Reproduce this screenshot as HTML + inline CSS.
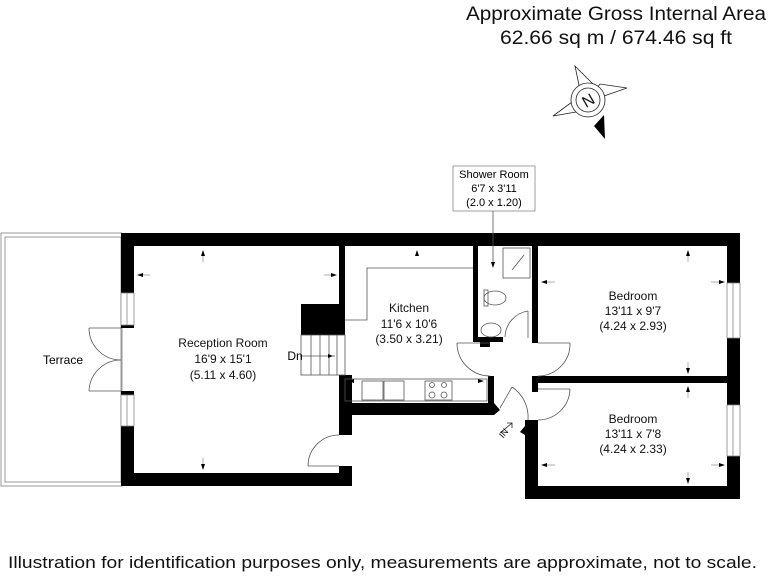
<!DOCTYPE html>
<html><head><style>
html,body{margin:0;padding:0;background:#fff;}
svg{display:block;font-family:"Liberation Sans",Arial,sans-serif;}
</style></head><body>
<svg width="768" height="576" viewBox="0 0 768 576" xmlns="http://www.w3.org/2000/svg">
<text x="466" y="20" font-size="19" textLength="300" lengthAdjust="spacingAndGlyphs" fill="#111">Approximate Gross Internal Area</text>
<text x="500" y="44" font-size="19" textLength="232" lengthAdjust="spacingAndGlyphs" fill="#111">62.66 sq m / 674.46 sq ft</text>
<!-- compass -->
<g stroke="#222" stroke-width="0.8" fill="#fff">
<polygon points="575,66 593,84 588,100 580,90"/>
<polygon points="627,88 604,96 588,100 600,84"/>
<polygon points="553,116 572,102 588,100 576,112"/>
<circle cx="588" cy="100" r="17"/>
<circle cx="588" cy="100" r="12"/>
</g>
<polygon points="605,139 594,126 604,115" fill="#000"/>
<text x="588" y="106" font-size="16" text-anchor="middle" transform="rotate(-30 588 100)" fill="#111">N</text>
<!-- terrace -->
<rect x="1" y="233" width="121" height="253" fill="none" stroke="#999" stroke-width="1"/>
<rect x="5" y="237" width="116" height="245" fill="none" stroke="#999" stroke-width="1"/>
<text x="63" y="364" font-size="12" text-anchor="middle">Terrace</text>
<!-- walls -->
<g fill="#000">
<rect x="121" y="233" width="619" height="13"/>
<rect x="121" y="233" width="13" height="60"/>
<rect x="121" y="325" width="13" height="3"/>
<rect x="121" y="391" width="13" height="4"/>
<rect x="121" y="426" width="13" height="60"/>
<rect x="121" y="473" width="231" height="13"/>
<rect x="339" y="466" width="13" height="20"/>
<rect x="339" y="246" width="6" height="60"/>
<rect x="301" y="304" width="44" height="31"/>
<rect x="339" y="375" width="13" height="60"/>
<rect x="345" y="403" width="149" height="12"/>
<polygon points="488,376 494,376 494,403 500,410 494,415 488,415"/>
<rect x="473" y="246" width="5" height="96"/>
<rect x="473" y="337" width="30" height="5"/>
<rect x="480" y="337" width="10" height="10"/>
<rect x="532" y="246" width="6" height="97"/>
<rect x="532" y="376" width="208" height="7"/>
<rect x="532" y="376" width="6" height="16"/>
<rect x="727" y="233" width="13" height="50"/>
<rect x="727" y="338" width="13" height="67"/>
<rect x="727" y="456" width="13" height="43"/>
<rect x="525" y="486" width="215" height="13"/>
<rect x="525" y="420" width="13" height="79"/>
<polygon points="520,432 530,420 538,420 538,438 530,438"/>
</g>
<!-- windows -->
<g fill="#fff" stroke="#888" stroke-width="0.8">
<rect x="121" y="293" width="13" height="32"/><line x1="127" y1="293" x2="127" y2="325"/>
<rect x="121" y="395" width="13" height="31"/><line x1="127" y1="395" x2="127" y2="426"/>
<rect x="727" y="283" width="13" height="55"/><line x1="733" y1="283" x2="733" y2="338"/>
<rect x="727" y="405" width="13" height="51"/><line x1="733" y1="405" x2="733" y2="456"/>
</g>
<!-- doors -->
<g fill="none" stroke="#555" stroke-width="0.8">
<path d="M89 328 A32 32 0 0 0 121 360"/><line x1="89" y1="328" x2="121" y2="328"/>
<path d="M89 391 A32 32 0 0 1 121 360"/><line x1="89" y1="391" x2="121" y2="391"/>
<path d="M308 466 A31 31 0 0 1 339 435"/><line x1="308" y1="466" x2="339" y2="466"/>
<path d="M457 343 A33 33 0 0 0 490 376"/><line x1="457" y1="343" x2="490" y2="343"/>
<path d="M570 343 A32 32 0 0 1 538 376"/><line x1="538" y1="343" x2="570" y2="343"/>
<path d="M570 389 A32 32 0 0 1 538 420"/><line x1="538" y1="389" x2="570" y2="389"/>
<path d="M505 337 A27 27 0 0 1 528 311"/><line x1="528" y1="311" x2="528" y2="338"/>
<path d="M512 387 A36 36 0 0 1 528 420"/><line x1="500" y1="408" x2="512" y2="387"/>
<!-- stairs -->
<rect x="301" y="335" width="44" height="40"/>
<line x1="311" y1="335" x2="311" y2="375"/><line x1="320" y1="335" x2="320" y2="375"/><line x1="329" y1="335" x2="329" y2="375"/><line x1="337" y1="335" x2="337" y2="375"/>
<line x1="300" y1="356" x2="335" y2="356"/>
<!-- kitchen counters -->
<polyline points="473,268 367,268 367,320 345,320"/>
<rect x="345" y="379" width="142" height="22"/>
<rect x="362" y="381" width="21" height="19"/><rect x="384" y="381" width="20" height="19"/>
<rect x="425" y="381" width="27" height="19"/>
<circle cx="432" cy="385" r="2.5"/><circle cx="444" cy="385" r="2.5"/><circle cx="432" cy="395" r="3"/><circle cx="444" cy="395" r="3"/>
<!-- shower -->
<rect x="503" y="248" width="27" height="30"/><line x1="512" y1="270" x2="524" y2="255"/>
<ellipse cx="495" cy="298" rx="11" ry="7"/><rect x="484" y="290" width="4" height="16"/>
<ellipse cx="491" cy="330" rx="10" ry="7"/>
<!-- label box -->
<rect x="453" y="166" width="82" height="45" stroke="#888"/>
<line x1="493" y1="211" x2="493" y2="265"/>
</g>
<text x="494" y="178" font-size="11" text-anchor="middle">Shower Room</text>
<text x="494" y="192" font-size="11" text-anchor="middle">6'7 x 3'11</text>
<text x="494" y="206" font-size="11" text-anchor="middle">(2.0 x 1.20)</text>
<!-- arrows -->
<g fill="#000">
<polygon points="203,250 201,256 205,256"/><polygon points="203,470 201,464 205,464"/>
<polygon points="137,275 143,273 143,277"/><polygon points="337,275 331,273 331,277"/>
<polygon points="417,250 415,256 419,256"/>
<polygon points="348,381 354,379 354,383"/><polygon points="484,381 478,379 478,383"/>
<polygon points="493,268 491,262 495,262"/>
<polygon points="688,250 686,256 690,256"/><polygon points="688,374 686,368 690,368"/>
<polygon points="541,282 547,280 547,284"/><polygon points="725,282 719,280 719,284"/>
<polygon points="688,386 686,392 690,392"/><polygon points="688,484 686,478 690,478"/>
<polygon points="541,465 547,463 547,467"/><polygon points="725,465 719,463 719,467"/>
<polygon points="333,356 328,354 328,358"/>
</g>
<g stroke="#777" stroke-width="0.6">
<line x1="203" y1="256" x2="203" y2="262"/><line x1="203" y1="458" x2="203" y2="464"/>
<line x1="143" y1="275" x2="150" y2="275"/><line x1="324" y1="275" x2="331" y2="275"/>
<line x1="547" y1="282" x2="555" y2="282"/><line x1="711" y1="282" x2="719" y2="282"/>
<line x1="547" y1="465" x2="555" y2="465"/><line x1="711" y1="465" x2="719" y2="465"/>
<line x1="688" y1="256" x2="688" y2="262"/><line x1="688" y1="362" x2="688" y2="368"/>
<line x1="688" y1="392" x2="688" y2="398"/><line x1="688" y1="472" x2="688" y2="478"/>
</g>
<text x="295" y="360" font-size="12" text-anchor="middle">Dn</text>
<g font-size="12" text-anchor="middle" fill="#111">
<text x="223" y="347">Reception Room</text><text x="223" y="363">16'9 x 15'1</text><text x="223" y="379">(5.11 x 4.60)</text>
<text x="409" y="312">Kitchen</text><text x="409" y="328">11'6 x 10'6</text><text x="409" y="343">(3.50 x 3.21)</text>
<text x="633" y="300">Bedroom</text><text x="633" y="315">13'11 x 9'7</text><text x="633" y="330">(4.24 x 2.93)</text>
<text x="633" y="423">Bedroom</text><text x="633" y="438">13'11 x 7'8</text><text x="633" y="453">(4.24 x 2.33)</text>
</g>
<g stroke="#222" stroke-width="0.8" fill="none"><line x1="500" y1="433" x2="512" y2="423"/><polyline points="507,423 512,423 512,428"/></g>
<text x="500" y="440" font-size="9" transform="rotate(-50 500 436)">IN</text>
<text x="8" y="568" font-size="17" textLength="749" lengthAdjust="spacingAndGlyphs" fill="#111">Illustration for identification purposes only, measurements are approximate, not to scale.</text>
</svg>
</body></html>
